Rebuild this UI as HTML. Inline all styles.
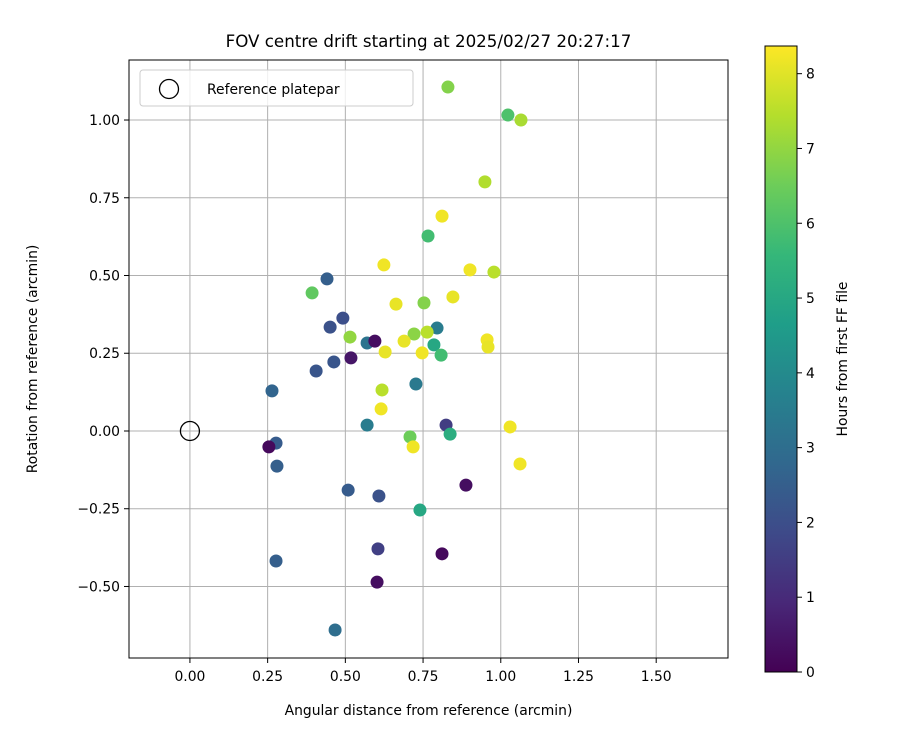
<!DOCTYPE html>
<html><head><meta charset="utf-8"><style>
body{margin:0;background:#fff}
svg{display:block;font-family:"DejaVu Sans","Liberation Sans",sans-serif}
</style></head><body>
<svg id="chart" width="900" height="750" viewBox="0 0 900 750"></svg>
<script>
const xs=[0.830,1.023,1.065,0.949,0.811,0.766,0.624,0.901,0.978,0.441,0.393,0.846,0.663,0.753,0.492,0.451,0.795,0.721,0.763,0.515,0.570,0.595,0.785,0.689,0.956,0.959,0.808,0.628,0.747,0.518,0.463,0.406,0.264,0.618,0.727,0.615,0.570,0.824,1.030,0.837,0.708,0.277,0.718,0.254,1.062,0.280,0.888,0.509,0.608,0.740,0.605,0.811,0.277,0.602,0.467];
const ys=[1.106,1.016,1.000,0.801,0.691,0.627,0.534,0.518,0.511,0.489,0.444,0.431,0.408,0.412,0.363,0.334,0.331,0.312,0.318,0.302,0.283,0.289,0.277,0.289,0.293,0.270,0.244,0.254,0.251,0.235,0.222,0.193,0.129,0.132,0.151,0.071,0.019,0.019,0.013,-0.010,-0.019,-0.039,-0.051,-0.051,-0.106,-0.113,-0.174,-0.190,-0.209,-0.254,-0.379,-0.395,-0.418,-0.486,-0.640];
const hours=[6.8,6.0,7.3,7.4,8.2,5.8,8.2,8.2,7.5,2.5,6.3,8.1,8.1,6.8,2.0,2.1,3.5,6.9,7.5,7.0,3.2,0.3,5.0,8.1,8.2,8.1,5.8,8.1,8.2,0.5,2.2,2.2,2.7,7.5,3.4,8.2,3.5,1.5,8.2,5.2,6.5,2.4,8.2,0.2,8.2,2.5,0.3,2.4,2.1,5.0,1.6,0.2,2.5,0.3,3.0];
const xTicks=[0,0.25,0.5,0.75,1.0,1.25,1.5];
const yTicks=[1.0,0.75,0.5,0.25,0,-0.25,-0.5];
const cTicks=[0,1,2,3,4,5,6,7,8];
const NS="http://www.w3.org/2000/svg";
const svg=document.getElementById('chart');
const L=129,R=728,T=60,B=658;
const xmin=-0.196,xmax=1.731,ymin=-0.730,ymax=1.193;
const X=v=>L+(v-xmin)/(xmax-xmin)*(R-L);
const Y=v=>B-(v-ymin)/(ymax-ymin)*(B-T);
const CT=46,CB=672,cmax=8.37;
const CY=v=>CB-v/cmax*(CB-CT);
const vir=[[68,1,84],[72,40,120],[62,74,137],[49,104,142],[38,130,142],[31,158,137],[53,183,121],[109,205,89],[180,222,44],[253,231,37]];
function color(h){let t=Math.max(0,Math.min(1,h/cmax))*(vir.length-1);let i=Math.min(Math.floor(t),vir.length-2),f=t-i;
const c=vir[i].map((a,k)=>Math.round(a+(vir[i+1][k]-a)*f));return `rgb(${c})`;}
function el(tag,a,txt){const e=document.createElementNS(NS,tag);for(const k in a)e.setAttribute(k,a[k]);if(txt!=null)e.textContent=txt;svg.appendChild(e);return e;}
const fmt=v=>(v<0?'\u2212':'')+Math.abs(v).toFixed(2);
xTicks.forEach(v=>{const g=el('line',{x1:X(v),x2:X(v),y1:T,y2:B,stroke:'#b0b0b0','stroke-width':1});


el('line',{x1:X(v),x2:X(v),y1:B,y2:B+5,stroke:'#000'});
const t=el('text',{x:X(v),y:B+23,'text-anchor':'middle','font-size':13.9},fmt(v));

});
yTicks.forEach(v=>{const g=el('line',{x1:L,x2:R,y1:Y(v),y2:Y(v),stroke:'#b0b0b0','stroke-width':1});


el('line',{x1:L-5,x2:L,y1:Y(v),y2:Y(v),stroke:'#000'});
const t=el('text',{x:L-9,y:Y(v)+5,'text-anchor':'end','font-size':13.9},fmt(v));

});
xs.forEach((v,i)=>{const c=el('circle',{cx:X(v),cy:Y(ys[i]),r:6.5,fill:color(hours[i])});

});
const rc=el('circle',{cx:X(0),cy:Y(0),r:9.5,fill:'none',stroke:'#000','stroke-width':1.3});


const fr=el('rect',{x:L,y:T,width:R-L,height:B-T,fill:'none',stroke:'#000','stroke-width':1});


const lg=el('rect',{x:140,y:70,width:273,height:36,rx:3,fill:'#fff','fill-opacity':0.8,stroke:'#ccc'});


el('circle',{cx:169,cy:89,r:9.5,fill:'none',stroke:'#000','stroke-width':1.3});
const lt=el('text',{x:207,y:94,'font-size':13.9},'Reference platepar');


const ti=el('text',{x:(L+R)/2,y:47,'text-anchor':'middle','font-size':16.7},'FOV centre drift starting at 2025/02/27 20:27:17');


const xt=el('text',{x:(L+R)/2,y:715,'text-anchor':'middle','font-size':13.9},'Angular distance from reference (arcmin)');


const yt=el('text',{x:37,y:(T+B)/2,'text-anchor':'middle','font-size':13.9,transform:`rotate(-90 37 ${(T+B)/2})`},'Rotation from reference (arcmin)');


const defs=el('defs',{});const gr=document.createElementNS(NS,'linearGradient');gr.setAttribute('id','vg');gr.setAttribute('x1','0');gr.setAttribute('y1','1');gr.setAttribute('x2','0');gr.setAttribute('y2','0');defs.appendChild(gr);
vir.forEach((c,i)=>{const s=document.createElementNS(NS,'stop');s.setAttribute('offset',i/(vir.length-1));s.setAttribute('stop-color',`rgb(${c})`);gr.appendChild(s);});
const cb=el('rect',{x:765,y:CT,width:32,height:CB-CT,fill:'url(#vg)',stroke:'#000','stroke-width':1});


cTicks.forEach(v=>{el('line',{x1:797,x2:802,y1:CY(v),y2:CY(v),stroke:'#000'});
const t=el('text',{x:806,y:CY(v)+5,'font-size':13.9},String(v));

});
const ct=el('text',{x:847,y:(CT+CB)/2,'text-anchor':'middle','font-size':13.9,transform:`rotate(-90 847 ${(CT+CB)/2})`},'Hours from first FF file');


</script>
</body></html>
